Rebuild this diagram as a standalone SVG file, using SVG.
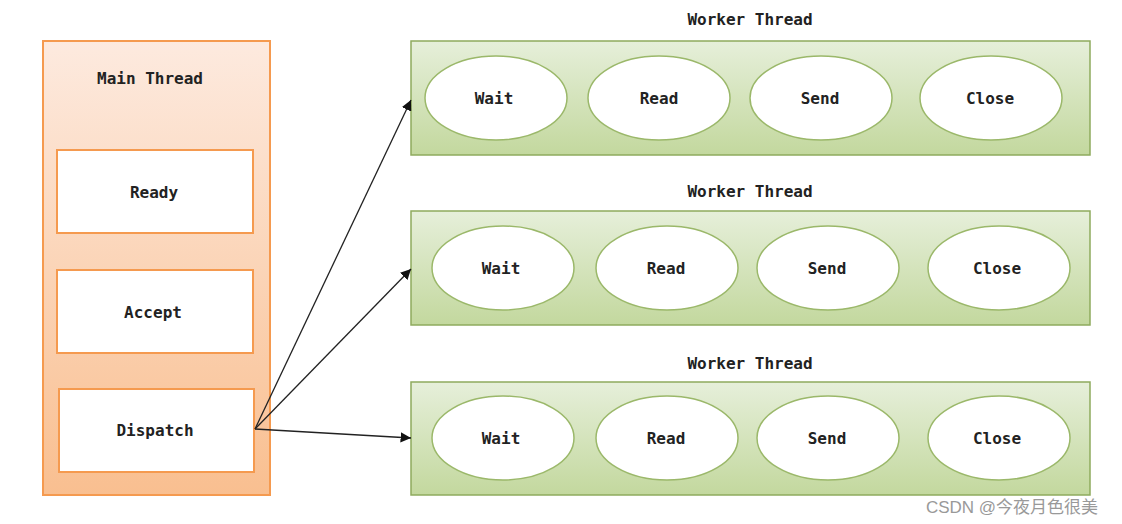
<svg xmlns="http://www.w3.org/2000/svg" width="1122" height="524" viewBox="0 0 1122 524">
<style>
text{font-family:"DejaVu Sans Mono","Liberation Mono",monospace;font-weight:bold;font-size:16px;fill:#222;text-anchor:middle}
.box{fill:#fff;stroke:#f59a4f;stroke-width:2}
.wk{fill:url(#g);stroke:#8eab5d;stroke-width:1.5}
.el{fill:#fff;stroke:#9bb86a;stroke-width:1.5}
.c{stroke:#222;stroke-width:1.3;fill:none;marker-end:url(#a)}
</style>
<defs>
<linearGradient id="o" x1="0" y1="0" x2="0" y2="1"><stop offset="0" stop-color="#fdeadf"/><stop offset="1" stop-color="#f9bf90"/></linearGradient>
<linearGradient id="g" x1="0" y1="0" x2="0" y2="1"><stop offset="0" stop-color="#e6efda"/><stop offset="1" stop-color="#c3d89e"/></linearGradient>
<marker id="a" viewBox="0 0 10 10" refX="10" refY="5" markerWidth="8" markerHeight="8" orient="auto"><path d="M0,0L10,5L0,10z" fill="#111"/></marker>
</defs>
<g id="main"><rect x="43" y="41" width="227" height="454" fill="url(#o)" stroke="#f59a4f" stroke-width="2"/><text x="150" y="84">Main Thread</text></g>
<g id="ready"><rect class="box" x="57" y="150" width="196" height="83"/><text x="154" y="198">Ready</text></g>
<g id="accept"><rect class="box" x="57" y="270" width="196" height="83"/><text x="153" y="318">Accept</text></g>
<g id="dispatch"><rect class="box" x="59" y="389" width="195" height="83"/><text x="155" y="436">Dispatch</text></g>
<g id="w1"><text x="750" y="25">Worker Thread</text><rect class="wk" x="411" y="41" width="679" height="114"/>
<ellipse class="el" cx="496" cy="98" rx="71" ry="42"/><text x="494" y="104">Wait</text>
<ellipse class="el" cx="659" cy="98" rx="71" ry="42"/><text x="659" y="104">Read</text>
<ellipse class="el" cx="821" cy="98" rx="71" ry="42"/><text x="820" y="104">Send</text>
<ellipse class="el" cx="991" cy="98" rx="71" ry="42"/><text x="990" y="104">Close</text></g>
<g id="w2"><text x="750" y="197">Worker Thread</text><rect class="wk" x="411" y="211" width="679" height="114"/>
<ellipse class="el" cx="503" cy="268" rx="71" ry="42"/><text x="501" y="274">Wait</text>
<ellipse class="el" cx="667" cy="268" rx="71" ry="42"/><text x="666" y="274">Read</text>
<ellipse class="el" cx="828" cy="268" rx="71" ry="42"/><text x="827" y="274">Send</text>
<ellipse class="el" cx="999" cy="268" rx="71" ry="42"/><text x="997" y="274">Close</text></g>
<g id="w3"><text x="750" y="369">Worker Thread</text><rect class="wk" x="411" y="382" width="679" height="113"/>
<ellipse class="el" cx="503" cy="438" rx="71" ry="42"/><text x="501" y="444">Wait</text>
<ellipse class="el" cx="667" cy="438" rx="71" ry="42"/><text x="666" y="444">Read</text>
<ellipse class="el" cx="828" cy="438" rx="71" ry="42"/><text x="827" y="444">Send</text>
<ellipse class="el" cx="999" cy="438" rx="71" ry="42"/><text x="997" y="444">Close</text></g>
<g id="connectors">
<line class="c" x1="255" y1="429" x2="411" y2="100"/>
<line class="c" x1="255" y1="429" x2="411" y2="269"/>
<line class="c" x1="255" y1="429" x2="411" y2="438"/>
</g>
<text x="1012" y="513" style="font-family:'Liberation Sans','Noto Sans CJK SC',sans-serif;font-weight:normal;font-size:17px;fill:#999">CSDN @今夜月色很美</text>
</svg>
